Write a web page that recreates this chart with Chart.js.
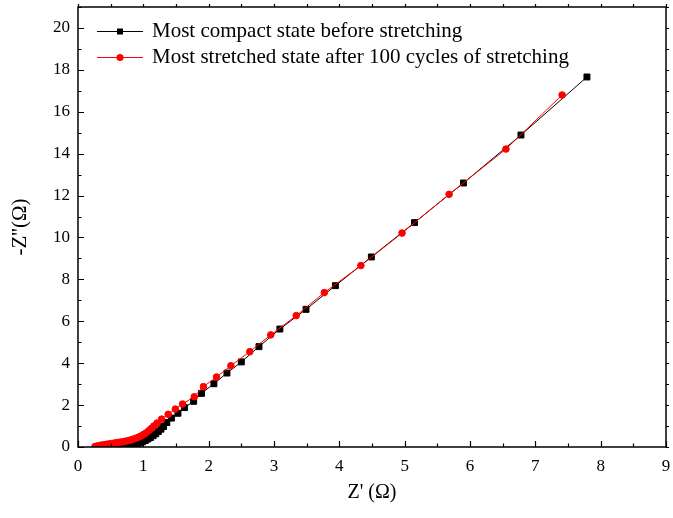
<!DOCTYPE html>
<html>
<head>
<meta charset="utf-8">
<title>Nyquist plot</title>
<script src="https://cdn.jsdelivr.net/npm/chart.js@4/dist/chart.umd.min.js"></script>
<style>
  html, body { margin: 0; padding: 0; background: #fff; }
  #wrap { width: 673px; height: 518px; }
</style>
</head>
<body>
<div id="wrap"><canvas id="c" width="673" height="518"></canvas></div>
<script>
// Z' and -Z'' (ohm), compact state before stretching
const compactZre = [0.48, 0.51, 0.55, 0.59, 0.63, 0.67, 0.71, 0.75, 0.79, 0.83, 0.87, 0.91, 0.95, 0.99, 1.03, 1.07, 1.11, 1.15, 1.19, 1.23, 1.27, 1.31, 1.36, 1.43, 1.53, 1.63, 1.77, 1.89, 2.08, 2.28, 2.50, 2.77, 3.09, 3.49, 3.94, 4.49, 5.15, 5.90, 6.78, 7.79];
const compactZim = [0.00, 0.00, 0.00, 0.01, 0.01, 0.02, 0.03, 0.04, 0.06, 0.08, 0.11, 0.15, 0.20, 0.25, 0.31, 0.38, 0.45, 0.54, 0.63, 0.74, 0.85, 0.98, 1.17, 1.38, 1.61, 1.88, 2.18, 2.56, 3.02, 3.53, 4.06, 4.79, 5.63, 6.57, 7.70, 9.07, 10.71, 12.60, 14.89, 17.66];

// Z' and -Z'' (ohm), stretched state after 100 cycles
const stretchedZre = [0.26, 0.28, 0.30, 0.33, 0.36, 0.40, 0.44, 0.48, 0.52, 0.56, 0.60, 0.64, 0.68, 0.72, 0.76, 0.80, 0.84, 0.88, 0.92, 0.96, 1.00, 1.04, 1.08, 1.12, 1.16, 1.21, 1.28, 1.38, 1.49, 1.60, 1.78, 1.92, 2.12, 2.34, 2.63, 2.95, 3.34, 3.77, 4.33, 4.96, 5.68, 6.55, 7.41];
const stretchedZim = [0.02, 0.03, 0.05, 0.07, 0.09, 0.11, 0.13, 0.15, 0.17, 0.19, 0.21, 0.23, 0.25, 0.27, 0.30, 0.33, 0.37, 0.41, 0.46, 0.52, 0.59, 0.67, 0.77, 0.88, 1.00, 1.14, 1.33, 1.56, 1.81, 2.05, 2.40, 2.88, 3.34, 3.88, 4.55, 5.35, 6.27, 7.37, 8.66, 10.21, 12.06, 14.22, 16.80];

const seriesNames = ['Most compact state before stretching', 'Most stretched state after 100 cycles of stretching'];
const xTitle = "Z' (\u03A9)";
const yTitle = "-Z''(\u03A9)";

const toPoints = (xs, ys) => xs.map((x, i) => ({ x: x, y: ys[i] }));

const serif = '"Liberation Serif", "Times New Roman", serif';

// Frame plus tick marks on all four sides
const framePlugin = {
  id: 'frameTicks',
  afterDraw(chart) {
    const { ctx, chartArea: a, scales } = chart;
    const xs = scales.x, ys = scales.y;
    ctx.save();
    ctx.strokeStyle = '#000';
    ctx.lineWidth = 1.5;
    ctx.strokeRect(a.left, a.top, a.right - a.left, a.bottom - a.top);
    ctx.lineWidth = 1.2;
    ctx.beginPath();
    for (let v = xs.min; v <= xs.max + 1e-9; v += 0.5) {
      const px = Math.round(xs.getPixelForValue(v)) + 0.5;
      const major = Math.abs(v - Math.round(v)) < 1e-9;
      const len = major ? 6 : 3.5;
      ctx.moveTo(px, a.bottom); ctx.lineTo(px, a.bottom - len);
      ctx.moveTo(px, a.top); ctx.lineTo(px, a.top - 3);
    }
    for (let v = ys.min; v <= ys.max + 1e-9; v += 1) {
      const py = Math.round(ys.getPixelForValue(v)) + 0.5;
      const major = v % 2 === 0;
      const len = major ? 6 : 3.5;
      ctx.moveTo(a.left, py); ctx.lineTo(a.left + len, py);
      ctx.moveTo(a.right, py); ctx.lineTo(a.right + 3, py);
    }
    ctx.stroke();
    ctx.restore();
  }
};

// Legend drawn inside the plot area, upper left
const insideLegend = {
  id: 'insideLegend',
  afterDraw(chart) {
    const { ctx, chartArea: a } = chart;
    ctx.save();
    ctx.font = '21px ' + serif;
    ctx.textBaseline = 'middle';
    ctx.textAlign = 'left';
    chart.data.datasets.forEach((ds, i) => {
      const y = a.top + 24 + i * 26;
      const x0 = a.left + 19, x1 = a.left + 65, xm = (x0 + x1) / 2;
      ctx.strokeStyle = ds.borderColor;
      ctx.lineWidth = 1;
      ctx.beginPath();
      ctx.moveTo(x0, y + 0.5); ctx.lineTo(x1, y + 0.5);
      ctx.stroke();
      ctx.fillStyle = ds.pointBackgroundColor;
      if (ds.pointStyle === 'rect') {
        ctx.fillRect(xm - 3, y - 2.5, 6, 6);
      } else {
        ctx.beginPath();
        ctx.arc(xm, y + 0.5, 3.5, 0, Math.PI * 2);
        ctx.fill();
      }
      ctx.fillStyle = '#000';
      ctx.fillText(ds.label, a.left + 74, y);
    });
    ctx.restore();
  }
};

new Chart(document.getElementById('c'), {
  type: 'scatter',
  data: {
    datasets: [
      {
        label: seriesNames[0],
        data: toPoints(compactZre, compactZim),
        showLine: true,
        borderColor: '#000000',
        backgroundColor: '#000000',
        borderWidth: 1,
        pointStyle: 'rect',
        pointRadius: 4.2,
        pointBorderWidth: 1,
        pointBackgroundColor: '#000000',
        pointBorderColor: '#000000',
        order: 1
      },
      {
        label: seriesNames[1],
        data: toPoints(stretchedZre, stretchedZim),
        showLine: true,
        borderColor: '#ff0000',
        backgroundColor: '#ff0000',
        borderWidth: 1,
        pointStyle: 'circle',
        pointRadius: 3.3,
        pointBorderWidth: 1,
        pointBackgroundColor: '#ff0000',
        pointBorderColor: '#ff0000',
        order: 0
      }
    ]
  },
  options: {
    responsive: false,
    animation: false,
    devicePixelRatio: 1,
    layout: { padding: { left: 0, right: 7, top: 7, bottom: 0 } },
    plugins: {
      legend: { display: false },
      tooltip: { enabled: false }
    },
    scales: {
      x: {
        type: 'linear',
        min: 0, max: 9,
        border: { display: false },
        grid: { display: false, drawTicks: false },
        ticks: { stepSize: 1, padding: 9, color: '#000', font: { family: serif, size: 17 }, includeBounds: false },
        title: { display: true, text: xTitle, color: '#000', font: { family: serif, size: 20 }, padding: { top: 0, bottom: 13 } },
        afterFit(scale) {
          scale.height = 71;
          scale.paddingLeft = 0;
          scale.paddingRight = 0;
        }
      },
      y: {
        type: 'linear',
        min: 0, max: 21,
        border: { display: false },
        grid: { display: false, drawTicks: false },
        ticks: { stepSize: 2, padding: 8, color: '#000', font: { family: serif, size: 17 }, includeBounds: false },
        title: { display: true, text: yTitle, color: '#000', font: { family: serif, size: 21 }, padding: { top: 8, bottom: 0 } },
        afterFit(scale) {
          scale.width = 78;
          scale.paddingTop = 0;
          scale.paddingBottom = 0;
        }
      }
    }
  },
  plugins: [framePlugin, insideLegend]
});
</script>
</body>
</html>
